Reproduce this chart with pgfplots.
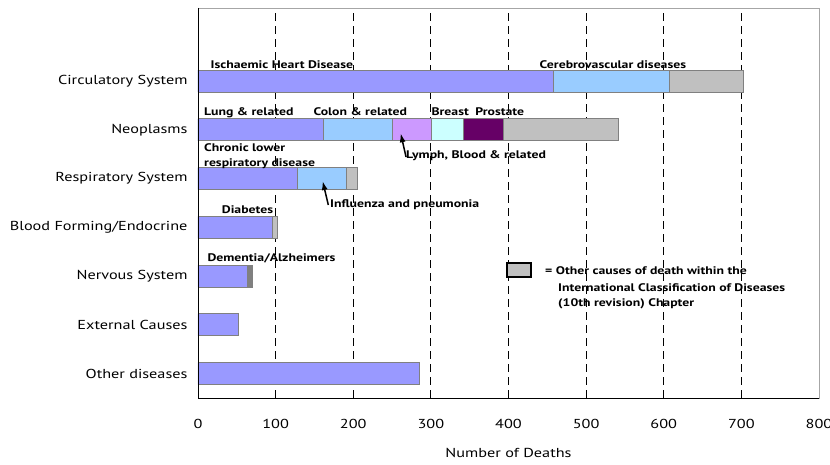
\documentclass[border=0pt]{standalone}
\usepackage{pgfplots}
\pgfplotsset{compat=1.18}
\usepackage{fontspec}
\setmainfont{PT Sans}[FakeStretch=1.25]
\usetikzlibrary{arrows.meta}
\definecolor{cA}{HTML}{9999FF}
\definecolor{cB}{HTML}{99CCFF}
\definecolor{cC}{HTML}{CC99FF}
\definecolor{cD}{HTML}{CCFFFF}
\definecolor{cE}{HTML}{660066}
\definecolor{cF}{HTML}{C0C0C0}
\definecolor{cG}{HTML}{808080}
\begin{document}
\begin{tikzpicture}
\begin{axis}[name=ax, scale only axis, width=621pt, height=390pt,
  xmin=0, xmax=800, ymin=0.5, ymax=8.5,
  xtick={0,100,...,800}, ytick={1,...,7},
  yticklabels={Other diseases, External Causes, Nervous System, Blood Forming/Endocrine, Respiratory System, Neoplasms, Circulatory System},
  xbar, bar shift=0pt, bar width=0.45,
  xmajorgrids, grid style={black, dash pattern=on 8pt off 5pt, line width=0.8pt},
  axis line style={draw=gray!70, line width=0.8pt},
  xtick pos=bottom, tick align=inside, major tick length=4pt,
  xtick style={black, line width=0.8pt}, ytick style={draw=none},
  ticklabel style={font=\fontsize{13}{15}\selectfont},
  /pgf/number format/assume math mode=true,
  xticklabel style={yshift=-18pt},
  yticklabel style={xshift=-7pt},
  xlabel={Number of Deaths},
  xlabel style={font=\fontsize{13}{15}\selectfont, at={(rel axis cs:0.5,0)}, anchor=base, yshift=-60pt},
  every axis plot/.append style={draw=cG, line width=0.8pt},
  clip=false,
]
% drawn from the longest cumulative segment to the shortest
\addplot[fill=cF] coordinates {(702,7) (541,6) (205,5) (102,4)};
\addplot[fill=cG] coordinates {(70,3)};
\addplot[fill=cE] coordinates {(393,6)};
\addplot[fill=cD] coordinates {(342,6)};
\addplot[fill=cC] coordinates {(301,6)};
\addplot[fill=cB] coordinates {(607,7) (251,6) (191,5)};
\addplot[fill=cA] coordinates {(458,7) (161,6) (128,5) (96,4) (64,3) (52,2) (285,1)};

\draw[black, line width=0.8pt] (rel axis cs:0,1) -- (rel axis cs:0,0) -- (rel axis cs:1,0);

\begin{scope}[every node/.style={font=\bfseries\fontsize{11}{13}\selectfont, inner sep=0pt, anchor=base west}]
\node at (axis cs:16,7.25) {Ischaemic Heart Disease};
\node at (axis cs:440,7.25) {Cerebrovascular diseases};
\node at (axis cs:7.7,6.285) {Lung \& related};
\node at (axis cs:148.6,6.285) {Colon \& related};
\node at (axis cs:300.6,6.285) {Breast};
\node at (axis cs:357,6.285) {Prostate};
\node at (axis cs:268,5.42) {Lymph, Blood \& related};
\node at (axis cs:7.7,5.546) {Chronic lower};
\node at (axis cs:7.7,5.248) {respiratory disease};
\node at (axis cs:170,4.417) {Influenza and pneumonia};
\node at (axis cs:30.5,4.285) {Diabetes};
\node at (axis cs:12,3.31) {Dementia/Alzheimers};
\node at (axis cs:447,3.04) {= Other causes of death within the};
\node at (axis cs:463.8,2.69) {International Classification of Diseases};
\node at (axis cs:463.8,2.37) {(10th revision) Chapter};
\end{scope}
\draw[-{Latex[length=9pt,width=6pt]}, line width=1.5pt] (axis cs:268,5.444) -- (axis cs:261.1,5.93);
\draw[-{Latex[length=9pt,width=6pt]}, line width=1.5pt] (axis cs:167.9,4.458) -- (axis cs:160.6,4.95);
\draw[fill=cF, line width=1.2pt] (axis cs:398,3.27) rectangle (axis cs:429,2.98);
\end{axis}
\pgfresetboundingbox
\path[use as bounding box] ([xshift=-198pt,yshift=-67pt]ax.south west) rectangle ([xshift=11pt,yshift=8pt]ax.north east);
\end{tikzpicture}
\end{document}
